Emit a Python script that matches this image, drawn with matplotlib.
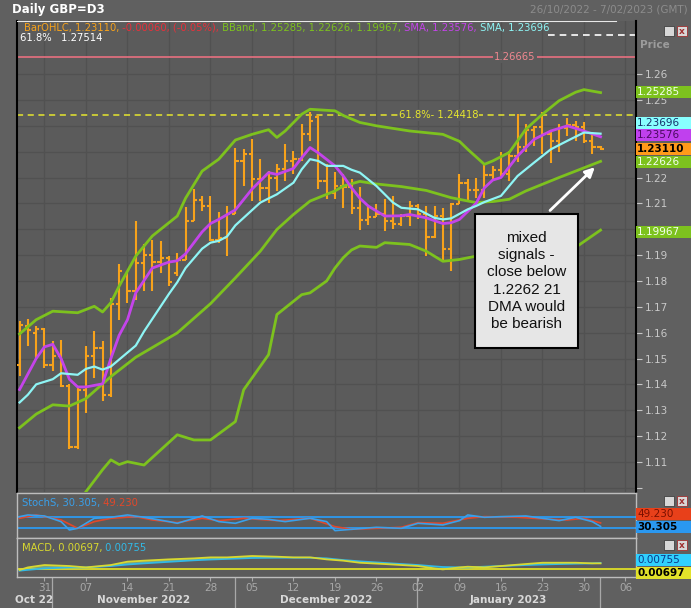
import matplotlib
matplotlib.use("Agg")
import matplotlib.pyplot as plt
from matplotlib.patches import Rectangle
from matplotlib.transforms import blended_transform_factory
import numpy as np
import pandas as pd

# ---- data ----
dates = pd.bdate_range("2022-10-26", "2023-02-01")   # 71 daily bars

opens = [1.1476, 1.1625, 1.1600, 1.1615, 1.1475, 1.1510, 1.1395, 1.1158, 1.1377, 1.1508,
         1.1540, 1.1360, 1.1709, 1.1820, 1.1760, 1.1871, 1.1900, 1.1875, 1.1890, 1.1830,
         1.1880, 1.2032, 1.2115, 1.2090, 1.1960, 1.1965, 1.2060, 1.2264, 1.2290, 1.2193,
         1.2160, 1.2200, 1.2232, 1.2264, 1.2270, 1.2367, 1.2433, 1.2187, 1.2140, 1.2167,
         1.2165, 1.2083, 1.2037, 1.2046, 1.2060, 1.2030, 1.2019, 1.2050, 1.2090, 1.2060,
         1.1970, 1.2050, 1.1922, 1.2096, 1.2180, 1.2150, 1.2150, 1.2210, 1.2230, 1.2215,
         1.2285, 1.2320, 1.2385, 1.2395, 1.2370, 1.2340, 1.2390, 1.2405, 1.2395, 1.2340,
         1.2317]
highs = [1.1644, 1.1651, 1.1624, 1.1619, 1.1566, 1.1573, 1.1400, 1.1385, 1.1547, 1.1605,
         1.1566, 1.1733, 1.1864, 1.1840, 1.2032, 1.1941, 1.1960, 1.1954, 1.1896, 1.1909,
         1.2085, 1.2154, 1.2128, 1.2128, 1.2065, 1.2090, 1.2316, 1.2310, 1.2348, 1.2271,
         1.2225, 1.2251, 1.2329, 1.2303, 1.2406, 1.2452, 1.2440, 1.2251, 1.2220, 1.2212,
         1.2193, 1.2162, 1.2090, 1.2097, 1.2116, 1.2129, 1.2057, 1.2110, 1.2097, 1.2090,
         1.2090, 1.2084, 1.2103, 1.2212, 1.2193, 1.2200, 1.2251, 1.2245, 1.2297, 1.2303,
         1.2445, 1.2406, 1.2400, 1.2452, 1.2380, 1.2406, 1.2432, 1.2419, 1.2413, 1.2374,
         1.2322]
lows = [1.1431, 1.1550, 1.1502, 1.1464, 1.1450, 1.1390, 1.1150, 1.1150, 1.1289, 1.1424,
        1.1334, 1.1353, 1.1650, 1.1716, 1.1728, 1.1760, 1.1760, 1.1831, 1.1780, 1.1820,
        1.1880, 1.2030, 1.2070, 1.1954, 1.1945, 1.1896, 1.2058, 1.2168, 1.2110, 1.2109,
        1.2103, 1.2148, 1.2187, 1.2212, 1.2264, 1.2342, 1.2154, 1.2116, 1.2116, 1.2084,
        1.2058, 1.1998, 1.2018, 1.2046, 1.1993, 1.1999, 1.2012, 1.2012, 1.2038, 1.1896,
        1.1967, 1.1876, 1.1838, 1.2096, 1.2109, 1.2120, 1.2120, 1.2187, 1.2206, 1.2187,
        1.2260, 1.2297, 1.2322, 1.2290, 1.2258, 1.2300, 1.2361, 1.2342, 1.2335, 1.2290,
        1.2305]
closes = [1.1631, 1.1610, 1.1615, 1.1475, 1.1510, 1.1395, 1.1158, 1.1377, 1.1508, 1.1540,
          1.1360, 1.1709, 1.1838, 1.1760, 1.1871, 1.1900, 1.1875, 1.1890, 1.1795, 1.1880,
          1.2032, 1.2115, 1.2090, 1.1960, 1.1965, 1.2060, 1.2264, 1.2290, 1.2193, 1.2160,
          1.2200, 1.2232, 1.2264, 1.2270, 1.2367, 1.2420, 1.2187, 1.2140, 1.2167, 1.2165,
          1.2083, 1.2037, 1.2046, 1.2060, 1.2030, 1.2019, 1.2050, 1.2090, 1.2060, 1.1970,
          1.2050, 1.1922, 1.2096, 1.2180, 1.2150, 1.2150, 1.2210, 1.2230, 1.2215, 1.2285,
          1.2320, 1.2385, 1.2395, 1.2370, 1.2340, 1.2390, 1.2405, 1.2395, 1.2340, 1.2317,
          1.2311]

bb_up_x = [0, 2, 4, 7, 9, 10, 11, 12, 14, 16, 19, 20, 22, 24, 26, 28, 30, 31, 32, 34, 35,
           38, 39, 41, 43, 47, 51, 53, 54, 56, 57, 59, 61, 63, 65, 67, 68, 70]
bb_up = [1.1595, 1.1650, 1.1683, 1.1677, 1.1702, 1.1680, 1.1716, 1.1780, 1.1896, 1.1974,
         1.2051, 1.2120, 1.2225, 1.2271, 1.2345, 1.2367, 1.2385, 1.2355, 1.2380, 1.2445,
         1.2464, 1.2458, 1.2440, 1.2413, 1.2400, 1.2380, 1.2367, 1.2340, 1.2309, 1.2251,
         1.2264, 1.2297, 1.2387, 1.2445, 1.2497, 1.2530, 1.2540, 1.25285]

bb_mid_x = [0, 2, 4, 6, 8, 11, 14, 19, 23, 26, 29, 31, 33, 35, 38, 39, 41, 43, 46, 49, 52,
            55, 57, 59, 61, 63, 65, 67, 70]
bb_mid = [1.1232, 1.1285, 1.1321, 1.1316, 1.1345, 1.1430, 1.1505, 1.1599, 1.1712, 1.1812,
          1.1915, 1.1999, 1.2057, 1.2109, 1.2148, 1.2167, 1.2185, 1.2175, 1.2165, 1.2150,
          1.2122, 1.2103, 1.2107, 1.2116, 1.2148, 1.2174, 1.2200, 1.2225, 1.22626]

bb_lo_x = [8, 10, 11, 12, 13, 15, 19, 21, 23, 26, 27, 30, 31, 34, 35, 37, 38, 39, 40, 41,
           43, 44, 47, 49, 51, 53, 55, 57, 60, 63, 65, 67, 70]
bb_lo = [1.0985, 1.1070, 1.1108, 1.1090, 1.1101, 1.1088, 1.1205, 1.1185, 1.1185, 1.1256,
         1.1379, 1.1515, 1.1670, 1.1747, 1.1754, 1.1800, 1.1850, 1.1890, 1.1920, 1.1935,
         1.1930, 1.1948, 1.1941, 1.1915, 1.1876, 1.1883, 1.1896, 1.1890, 1.1885, 1.1895,
         1.1910, 1.1930, 1.19967]

sma_m_x = [0, 2, 3, 4, 5, 6, 7, 8, 10, 11, 12, 13, 14, 16, 18, 19, 20, 22, 23, 24, 26,
           28, 30, 31, 33, 34, 35, 36, 38, 39, 40, 41, 42, 44, 46, 47, 49, 51, 52, 53,
           55, 56, 57, 58, 60, 62, 64, 66, 68, 70]
sma_m = [1.1380, 1.1500, 1.1545, 1.1555, 1.1500, 1.1420, 1.1390, 1.1390, 1.1402, 1.1500,
         1.1590, 1.1650, 1.1754, 1.1850, 1.1873, 1.1878, 1.1905, 1.1990, 1.2022, 1.2038,
         1.2075, 1.2155, 1.2219, 1.2212, 1.2235, 1.2277, 1.2316, 1.2295, 1.2245, 1.2206,
         1.2160, 1.2120, 1.2090, 1.2051, 1.2052, 1.2057, 1.2044, 1.2022, 1.2025, 1.2038,
         1.2100, 1.2160, 1.2190, 1.2200, 1.2283, 1.2348, 1.2380, 1.2400, 1.2380, 1.23576]

sma_c_x = [0, 1, 2, 4, 5, 7, 8, 9, 10, 11, 14, 15, 18, 19, 20, 22, 23, 24, 25, 26, 29,
           31, 33, 34, 35, 36, 37, 39, 40, 41, 43, 45, 46, 48, 50, 51, 52, 54, 55, 56,
           58, 60, 62, 64, 66, 68, 70]
sma_c = [1.1330, 1.1360, 1.1400, 1.1420, 1.1443, 1.1437, 1.1460, 1.1469, 1.1457, 1.1469,
         1.1550, 1.1605, 1.1750, 1.1795, 1.1850, 1.1925, 1.1948, 1.1955, 1.1972, 1.2015,
         1.2103, 1.2135, 1.2180, 1.2232, 1.2271, 1.2264, 1.2245, 1.2245, 1.2230, 1.2219,
         1.2167, 1.2103, 1.2083, 1.2077, 1.2044, 1.2038, 1.2042, 1.2077, 1.2090, 1.2105,
         1.2129, 1.2206, 1.2258, 1.2309, 1.2342, 1.2374, 1.23696]

st_k_x = [0, 1, 3, 5, 6, 7, 9, 11, 13, 15, 18, 19, 22, 24, 26, 28, 30, 32, 35, 37, 38,
          40, 43, 46, 48, 51, 53, 54, 56, 58, 61, 63, 65, 67, 69, 70]
st_k = [83.6, 92.7, 87.3, 56.4, 10.9, 20.0, 74.5, 80.0, 92.7, 80.0, 56.4, 47.3, 87.3,
        56.4, 47.3, 74.5, 69.0, 56.4, 74.5, 56.4, 7.3, 14.5, 25.5, 20.0, 47.3, 38.2, 61.8,
        92.7, 80.0, 83.6, 87.3, 74.5, 61.8, 80.0, 56.4, 30.305]
st_d_x = [0, 2, 5, 7, 9, 11, 14, 16, 19, 22, 24, 27, 31, 35, 38, 40, 43, 46, 48, 51, 54,
          56, 60, 64, 66, 68, 70]
st_d = [74.5, 92.7, 65.5, 20.0, 56.4, 74.5, 83.6, 65.5, 50.9, 74.5, 61.8, 74.5, 61.8,
        74.5, 29.0, 14.5, 20.0, 25.5, 50.9, 47.3, 74.5, 83.6, 80.0, 69.0, 65.5, 74.5, 49.23]

macd_x = [0, 1, 3, 6, 8, 11, 13, 15, 18, 21, 23, 25, 28, 31, 33, 35, 37, 39, 41, 44, 46,
          48, 50, 51, 53, 54, 56, 58, 61, 63, 65, 67, 69, 70]
macd = [-0.0017, 0.0017, 0.0048, 0.0035, 0.0017, 0.0048, 0.0092, 0.0105, 0.0122, 0.0135,
        0.0148, 0.0148, 0.0166, 0.0157, 0.0148, 0.0148, 0.0122, 0.0105, 0.0078, 0.0061,
        0.0048, 0.0035, 0.0004, -0.0009, 0.0017, 0.0026, 0.0017, 0.0035, 0.0061, 0.0078,
        0.0078, 0.0078, 0.0070, 0.00697]
signal = [-0.0026, -0.0015, 0.0004, 0.0017, 0.0017, 0.0035, 0.0055, 0.0070, 0.0090, 0.0110,
          0.0120, 0.0128, 0.0140, 0.0144, 0.0144, 0.0144, 0.0135, 0.0113, 0.0096, 0.0075,
          0.0061, 0.0048, 0.0030, 0.0022, 0.0017, 0.0017, 0.0026, 0.0035, 0.0048, 0.0055,
          0.0061, 0.0066, 0.0070, 0.00755]

fib_618 = 1.24418
fib_top = 1.27514
res_line = 1.26665

# ---- colours ----
BG = "#606060"
PANEL = "#5b5b5b"
GRID = "#515151"
ORANGE = "#f7a21b"
GREEN = "#7dc21e"
MAGENTA = "#c444ea"
CYAN = "#8ef5f5"
YEL = "#e6e62e"
TXT = "#c8c8c8"

W, H = 691, 608
fig = plt.figure(figsize=(W / 100, H / 100), dpi=100)
fig.patch.set_facecolor(BG)


def fbox(x0, y0, x1, y1):
    return [x0 / W, 1 - y1 / H, (x1 - x0) / W, (y1 - y0) / H]


ax = fig.add_axes(fbox(17, 21, 636, 492))
ax_st = fig.add_axes(fbox(17, 493, 636, 538))
ax_md = fig.add_axes(fbox(17, 538, 636, 577))

XL = (-0.31, 74.27)
idx = np.arange(len(closes))
ticks_all = pd.bdate_range("2022-10-26", "2023-02-07")
mondays = [i for i, d in enumerate(ticks_all) if d.weekday() == 0]

# ---- main price panel ----
ax.set_facecolor(PANEL)
ax.set_xlim(*XL)
ax.set_ylim(1.09837, 1.28054)
yt = np.round(np.arange(1.10, 1.265, 0.01), 2)
hidden = {1.10, 1.20, 1.23, 1.24}          # covered by the value boxes in the reference
ax.set_yticks(yt)
ax.set_yticklabels(["" if v in hidden else f"{v:.2f}" for v in yt])
ax.yaxis.tick_right()
ax.tick_params(axis="y", colors=TXT, labelsize=7.5, length=4, width=0.8, pad=2)
ax.set_xticks(mondays)
ax.tick_params(axis="x", length=0, labelbottom=False)
ax.grid(True, color=GRID, lw=0.9)
ax.set_axisbelow(True)
for s in ["left", "right"]:
    ax.spines[s].set_color("black")
    ax.spines[s].set_linewidth(1.5)
ax.spines["top"].set_visible(False)
ax.spines["bottom"].set_visible(False)
ax.axhline(1.28054, xmin=0, xmax=0.968, color="#e8e8e8", lw=1.5, zorder=6)

ax.axhline(res_line, color="#e87080", lw=1.2, zorder=2)
ax.text(59.7, res_line, "1.26665", color="#f08890", fontsize=7.2, ha="center", va="center",
        bbox=dict(facecolor=PANEL, edgecolor="none", pad=1.0), zorder=3)
ax.axhline(fib_618, color=YEL, lw=1.1, ls=(0, (4, 3)), zorder=2)
ax.text(50.5, fib_618, "61.8%- 1.24418", color=YEL, fontsize=7.2, ha="center", va="center",
        bbox=dict(facecolor=PANEL, edgecolor="none", pad=0.5), zorder=3)
ax.axhline(fib_top, xmin=0.858, color="white", lw=1.2, ls=(0, (4, 3)), zorder=2)
ax.text(0.1, fib_top - 0.0012, "61.8%   1.27514", color="white", fontsize=7.2, ha="left",
        va="center", zorder=3)

# OHLC bars
ax.vlines(idx, lows, highs, color=ORANGE, lw=1.5, zorder=3)
ax.hlines(opens, idx - 0.4, idx, color=ORANGE, lw=1.5, zorder=3)
ax.hlines(closes, idx, idx + 0.4, color=ORANGE, lw=1.5, zorder=3)

ax.plot(bb_up_x, bb_up, color=GREEN, lw=2.0, zorder=4)
ax.plot(bb_mid_x, bb_mid, color=GREEN, lw=2.0, zorder=4)
ax.plot(bb_lo_x, bb_lo, color=GREEN, lw=2.0, zorder=4)
ax.plot(sma_m_x, sma_m, color=MAGENTA, lw=2.0, zorder=5)
ax.plot(sma_c_x, sma_c, color=CYAN, lw=1.6, zorder=5)

# annotation box + arrow
ax.add_patch(Rectangle((54.87, 1.15419), 12.41, 0.05155, facecolor="#e6e6e6",
                       edgecolor="black", lw=1.5, zorder=7))
ax.text(61.07, 1.1800, "mixed\nsignals -\nclose below\n1.2262 21\nDMA would\nbe bearish",
        ha="center", va="center", fontsize=11, family="Liberation Sans", color="#111111",
        linespacing=1.3, zorder=8)
ax.annotate("", xy=(69.55, 1.22473), xytext=(63.67, 1.20651),
            arrowprops=dict(arrowstyle="-|>", color="white", lw=2.0, mutation_scale=14), zorder=8)

# ---- stochastic panel ----
ax_st.set_facecolor(PANEL)
ax_st.set_xlim(*XL)
ax_st.set_ylim(-32.9, 212.5)
ax_st.set_xticks([])
ax_st.set_yticks([])
for s in ax_st.spines.values():
    s.set_color("#bdbdbd")
    s.set_linewidth(1.0)
ax_st.axhline(80, color="#2f95e6", lw=1.4)
ax_st.axhline(20, color="#2f95e6", lw=1.4)
ax_st.plot(st_d_x, st_d, color="#e2482a", lw=1.2)
ax_st.plot(st_k_x, st_k, color="#3aa0ea", lw=1.2)

# ---- MACD panel ----
ax_md.set_facecolor(PANEL)
ax_md.set_xlim(*XL)
ax_md.set_ylim(-0.01086, 0.04016)
ax_md.set_yticks([])
for s in ax_md.spines.values():
    s.set_color("#bdbdbd")
    s.set_linewidth(1.0)
ax_md.axhline(0, color="#d4d42a", lw=1.4)
ax_md.fill_between(macd_x, macd, signal, where=np.array(macd) >= np.array(signal),
                   color="#9ee08e", alpha=0.55, lw=0, interpolate=True)
ax_md.plot(macd_x, signal, color="#32b9e6", lw=1.3)
ax_md.plot(macd_x, macd, color="#d8d830", lw=1.3)

ax_md.set_xticks(mondays)
ax_md.set_xticklabels([ticks_all[i].strftime("%d") for i in mondays])
ax_md.tick_params(axis="x", colors="#a8a8a8", labelsize=7.5, length=3, pad=1.5)

# month row
tr_md = blended_transform_factory(ax_md.transData, fig.transFigure)
month_starts = [0] + [i for i in range(1, len(ticks_all)) if ticks_all[i].month != ticks_all[i - 1].month]
for s in month_starts[1:]:
    ax_md.plot([s - 0.1, s - 0.1], [1 - 578 / H, 1 - 607 / H], color="#a8a8a8", lw=0.9,
               transform=tr_md, clip_on=False)
month_names = ["Oct 22", "November 2022", "December 2022", "January 2023"]
bounds = [XL[0]] + [s - 0.1 for s in month_starts[1:]]
for k, name in enumerate(month_names):
    ax_md.text((bounds[k] + bounds[k + 1]) / 2, 1 - 600 / H, name, transform=tr_md, ha="center",
               va="center", color="#d8d8d8", fontsize=7.5, fontweight="bold", clip_on=False)


# ---- right side value boxes ----
def side_label(a, yv, text, fc, tc, h, bold=False):
    tr = blended_transform_factory(a.transAxes, a.transData)
    a.add_patch(Rectangle((1.0, yv - h / 2), 55 / 619, h, transform=tr, clip_on=False,
                          facecolor=fc, edgecolor="none", zorder=9))
    a.text(1.0 + 1 / 619, yv, text, transform=tr, color=tc, fontsize=7.5, va="center", ha="left",
           fontweight="bold" if bold else "normal", clip_on=False, zorder=10)


hp = 12 / 2580
side_label(ax, 1.25322, "1.25285", GREEN, "#f4fff0", hp)
side_label(ax, 1.24101, "1.23696", "#88ffff", "#16306a", hp)
side_label(ax, 1.23636, "1.23576", "#c040ee", "#4a0a60", hp)
side_label(ax, 1.23112, "1.23110", "#ff9a1a", "black", hp, bold=True)
side_label(ax, 1.22609, "1.22626", GREEN, "#f4fff0", hp)
side_label(ax, 1.19895, "1.19967", GREEN, "#f4fff0", hp)
side_label(ax_st, 98.0, "49.230", "#e8401a", "#7a1000", 12 * 5.4545)
side_label(ax_st, 27.1, "30.305", "#2a98f0", "black", 12 * 5.4545, bold=True)
side_label(ax_md, 0.0114, "0.00755", "#30d0ff", "#0a3a8a", 12 * 0.001308)
side_label(ax_md, -0.0056, "0.00697", "#e2e22a", "black", 12 * 0.001308, bold=True)

# ---- header texts ----
fig.text(12 / W, 1 - 10 / H, "Daily GBP=D3", color="white", fontsize=8.5, fontweight="bold",
         va="center", ha="left")
fig.text(688 / W, 1 - 10 / H, "26/10/2022 - 7/02/2023 (GMT)", color="#8c8c8c", fontsize=7.5,
         va="center", ha="right")
fig.text(655 / W, 1 - 45 / H, "Price", color="#9c9c9c", fontsize=7.5, fontweight="bold",
         va="center", ha="center")

r = fig.canvas.get_renderer()


def chain(x0, y, pieces, size=7.2):
    x = x0
    for s, c in pieces:
        t = fig.text(x / W, 1 - y / H, s, color=c, fontsize=size, va="center", ha="left", zorder=20)
        x = t.get_window_extent(renderer=r).x1


chain(24, 28, [("BarOHLC, 1.23110,", ORANGE), (" -0.00060, (-0.05%),", "#e8303a"),
               (" BBand, 1.25285, 1.22626, 1.19967,", GREEN), (" SMA, 1.23576,", MAGENTA),
               (" SMA, 1.23696", CYAN)])
chain(22, 503, [("StochS, 30.305,", "#3aa0ea"), (" 49.230", "#e2482a")])
chain(22, 548, [("MACD, 0.00697,", "#d8d830"), (" 0.00755", "#32b9e6")])

# small window buttons
for yb in (31, 501, 545):
    fig.patches.append(Rectangle((664 / W, 1 - (yb + 5) / H), 10 / W, 10 / H, transform=fig.transFigure,
                                 facecolor="#d8d8d8", edgecolor="#404040", lw=0.6))
    fig.patches.append(Rectangle((677 / W, 1 - (yb + 5) / H), 10 / W, 10 / H, transform=fig.transFigure,
                                 facecolor="#d8d8d8", edgecolor="#a03030", lw=0.6))
    fig.text(682 / W, 1 - yb / H, "x", color="#a03030", fontsize=6.5, ha="center", va="center",
             fontweight="bold")

fig.savefig("out.png", dpi=100, facecolor=fig.get_facecolor())
